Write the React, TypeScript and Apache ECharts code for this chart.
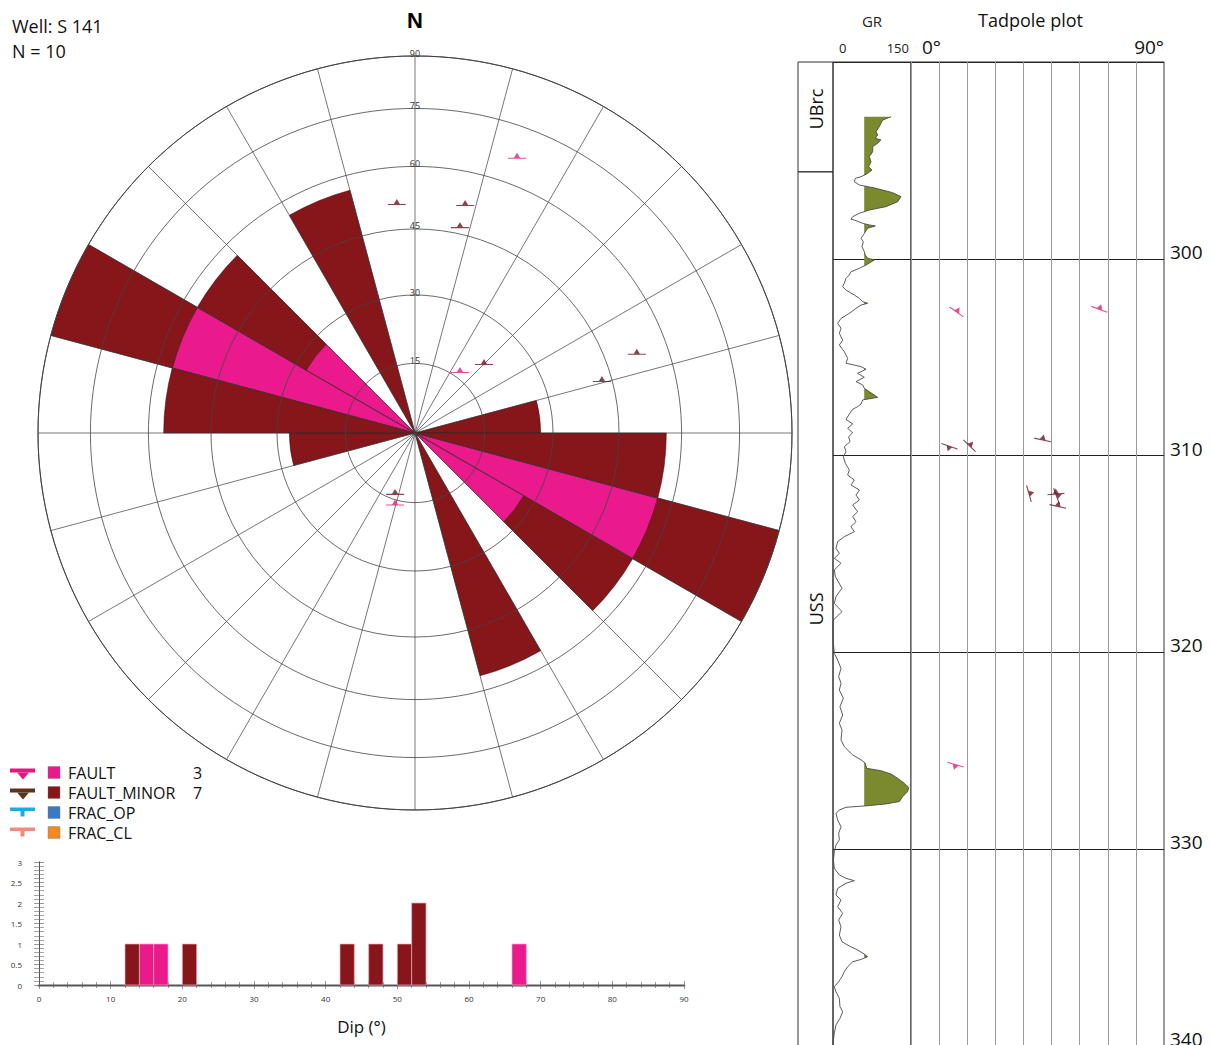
import React, { useEffect, useRef } from 'react';
import * as echarts from 'echarts';

const FONT = '"Open Sans", "Noto Sans", "DejaVu Sans", sans-serif';
const PINK = '#EB1A8C';
const DARK = '#86161A';
const OLIVE = '#7B8A2E';

// ---------- structural features (poles) ----------
const featureTypeNames = ['FAULT', 'FAULT_MINOR', 'FRAC_OP', 'FRAC_CL'];
const featureTypeColors = [PINK, DARK, '#3C79C2', '#F08A24'];
const featureSymbolColors = ['#E0207A', '#6E1422', '#1FA9DF', '#F2897A'];
const featureType = ['FAULT', 'FAULT', 'FAULT_MINOR', 'FAULT_MINOR', 'FAULT_MINOR', 'FAULT_MINOR', 'FAULT_MINOR', 'FAULT_MINOR', 'FAULT_MINOR', 'FAULT'];
const featureDip = [16.7, 67.3, 13.4, 21.4, 47.0, 42.8, 51.5, 52.6, 52.4, 15.6];
const featureAzimuth = [35.5, 20.2, 198.7, 44.2, 12.2, 73.9, 355.5, 69.9, 12.3, 196.0];
const featureDepth = [302.6, 302.45, 309.64, 309.41, 309.08, 311.9, 311.83, 312.02, 312.46, 325.82];

// ---------- rose (strike, bidirectional, 15° bins) ----------
const roseBins = ['0', '15', '30', '45', '60', '75', '90', '105', '120', '135', '150', '165', '180', '195', '210', '225', '240', '255', '270', '285', '300', '315', '330', '345'];
const ROSE_STEP = 15;
const ROSE_MAX = 3;
const ringDips = [15, 30, 45, 60, 75, 90];

// ---------- dip histogram ----------
const HIST_BIN = 2;
const histXTicks = [0, 90, 10];
const histYTicks = [0, 3, 0.5];

// ---------- well log ----------
const DEPTH_MIN = 290;
const DEPTH_MAX = 340;
const GR_MIN = 0;
const GR_MAX = 150;
const GR_CUTOFF = 60;
const grDepth = [292.78, 292.95, 293.29, 293.54, 293.71, 293.88, 293.96, 294.13, 294.3, 294.56, 294.81, 295.07, 295.32, 295.49, 295.66, 295.83, 295.91, 296.08, 296.25, 296.42, 296.64, 296.84, 297.1, 297.35, 297.52, 297.69, 297.86, 297.99, 298.03, 298.2, 298.28, 298.33, 298.45, 298.71, 298.96, 299.13, 299.38, 299.64, 299.81, 299.97, 300.06, 300.32, 300.48, 300.66, 300.82, 300.99, 301.24, 301.42, 301.59, 301.84, 302.01, 302.18, 302.26, 302.35, 302.52, 302.77, 303.03, 303.28, 303.53, 303.79, 304.13, 304.38, 304.72, 305.06, 305.31, 305.4, 305.48, 305.61, 305.82, 306.02, 306.24, 306.41, 306.58, 307.04, 307.17, 307.38, 307.51, 307.65, 307.89, 308.16, 308.39, 308.61, 308.84, 309.04, 309.29, 309.55, 309.8, 310.06, 310.39, 310.73, 310.99, 311.24, 311.49, 311.75, 312.0, 312.26, 312.51, 312.85, 313.1, 313.36, 313.61, 313.87, 314.12, 314.37, 314.71, 314.97, 315.22, 315.47, 315.81, 316.15, 316.74, 317.17, 317.51, 317.93, 318.35, 318.86, 319.54, 320.05, 320.39, 320.81, 321.23, 321.57, 321.91, 322.33, 322.76, 323.18, 323.6, 323.94, 324.45, 324.79, 325.21, 325.46, 325.63, 325.89, 326.01, 326.18, 326.4, 326.65, 326.86, 327.07, 327.33, 327.58, 327.7, 327.8, 327.87, 328.01, 328.18, 328.52, 328.86, 329.19, 329.53, 329.79, 330.13, 330.55, 330.97, 331.31, 331.48, 331.6, 331.73, 331.99, 332.33, 332.58, 332.92, 333.26, 333.6, 333.94, 334.36, 334.7, 334.92, 335.12, 335.33, 335.46, 335.6, 335.72, 335.97, 336.22, 336.48, 336.73, 336.99, 337.24, 337.58, 338.0, 338.26, 338.6, 338.93, 339.36, 339.7, 340.04];
const grValue = [111.5, 95.5, 89.0, 82.7, 85.9, 81.4, 92.2, 85.9, 76.3, 76.3, 69.8, 73.1, 68.6, 75.0, 66.6, 53.9, 43.0, 41.0, 50.7, 82.7, 114.8, 130.7, 124.3, 101.9, 69.8, 50.7, 37.8, 34.6, 41.0, 57.1, 69.8, 81.4, 66.6, 60.2, 53.9, 58.3, 55.7, 60.2, 62.1, 66.6, 79.5, 63.4, 50.7, 34.6, 31.4, 25.0, 21.8, 18.6, 25.0, 41.0, 50.7, 57.1, 66.6, 53.9, 44.2, 31.4, 15.4, 9.0, 15.4, 12.2, 18.6, 12.2, 21.8, 28.2, 25.0, 41.0, 53.9, 63.4, 47.4, 60.2, 44.2, 57.1, 60.2, 85.9, 57.1, 53.9, 47.4, 37.8, 31.4, 25.0, 37.8, 28.2, 37.8, 30.1, 32.7, 21.8, 25.0, 19.9, 23.7, 31.4, 28.2, 41.0, 34.6, 50.7, 44.2, 50.7, 37.8, 47.4, 37.8, 44.2, 34.6, 41.0, 21.8, 9.0, 5.7, 12.2, 2.5, 15.4, 2.5, 4.5, 17.3, 5.7, 2.5, 17.3, 0.7, 0, 0.7, 2.5, 9.0, 15.4, 10.9, 15.4, 12.2, 19.9, 13.4, 18.6, 12.2, 17.3, 15.4, 21.8, 37.8, 53.9, 62.1, 64.7, 92.2, 111.5, 124.3, 137.1, 145.6, 143.6, 133.9, 127.6, 101.9, 62.1, 25.0, 12.2, 5.7, 9.0, 15.4, 10.9, 12.2, 5.7, 2.5, 0.7, 2.5, 12.2, 25.0, 41.0, 25.0, 9.0, 5.7, 15.4, 9.0, 18.6, 10.9, 15.4, 12.2, 17.3, 31.4, 47.4, 60.2, 66.6, 53.9, 37.8, 28.2, 21.8, 17.3, 10.9, 2.5, 5.7, 12.2, 13.4, 18.6, 13.4, 5.7, 2.5, 0.7, 0];
const formationName = ['UBrc', 'USS'];
const formationTop = [290, 295.58];
const formationBase = [295.58, 340];

const eqArea = (dip: number) => Math.SQRT2 * Math.sin((dip * Math.PI) / 360);
const colorOf = (t: string) => featureTypeColors[featureTypeNames.indexOf(t)];
const symColorOf = (t: string) => featureSymbolColors[featureTypeNames.indexOf(t)];

const roseCount = (type: string) =>
  roseBins.map((b) => {
    const lo = Number(b);
    let n = 0;
    featureAzimuth.forEach((az, i) => {
      if (featureType[i] !== type) return;
      const s = (az + 90) % 180;
      [s, s + 180].forEach((v) => {
        if (v >= lo && v < lo + ROSE_STEP) n++;
      });
    });
    return n;
  });

const histRects = () => {
  const counts: Record<string, Record<number, number>> = {};
  featureTypeNames.forEach((t) => (counts[t] = {}));
  featureDip.forEach((d, i) => {
    const b = Math.floor(d / HIST_BIN) * HIST_BIN;
    counts[featureType[i]][b] = (counts[featureType[i]][b] || 0) + 1;
  });
  const out: { value: number[]; color: string }[] = [];
  const base: Record<number, number> = {};
  featureTypeNames.forEach((t, ti) => {
    Object.keys(counts[t]).forEach((k) => {
      const b = Number(k);
      const y0 = base[b] || 0;
      const y1 = y0 + counts[t][b];
      base[b] = y1;
      out.push({ value: [b, b + HIST_BIN, y0, y1], color: featureTypeColors[ti] });
    });
  });
  return out;
};

const SYMBOL = 'path://M0,5 L18,5 L18,6 L0,6 Z M6,5 L9,0.5 L12,5 Z';

function buildOption(): any {
  const hist = histRects();
  const legendY = [772.5, 792.5, 812.5, 832.5];
  const legendEls: any[] = [];
  featureTypeNames.forEach((t, i) => {
    const y = legendY[i];
    const sc = ['#E8157F', '#5B3419', '#1FA9DF', '#F2897A'][i];
    if (i < 2) {
      legendEls.push({ type: 'rect', shape: { x: 10, y: y - 4, width: 25, height: 4 }, style: { fill: sc } });
      legendEls.push({ type: 'polygon', shape: { points: [[17, y], [29, y], [23, y + 7]] }, style: { fill: sc } });
    } else {
      legendEls.push({ type: 'rect', shape: { x: 10, y: y - 5, width: 25, height: 3.5 }, style: { fill: sc } });
      legendEls.push({ type: 'rect', shape: { x: 20.5, y: y - 2, width: 4, height: 6 }, style: { fill: sc } });
    }
    legendEls.push({ type: 'rect', shape: { x: 48, y: y - 6, width: 12, height: 12 }, style: { fill: featureTypeColors[i], stroke: '#777', lineWidth: 0.4 } });
    legendEls.push({ type: 'text', x: 68, y, style: { text: t, fontSize: 16, fontFamily: FONT, fill: '#111', verticalAlign: 'middle' } });
    const n = featureType.filter((f) => f === t).length;
    if (n > 0) legendEls.push({ type: 'text', x: 193, y, style: { text: String(n), fontSize: 16, fontFamily: FONT, fill: '#111', verticalAlign: 'middle' } });
  });

  const roseBar = (t: string) => ({
    type: 'bar',
    name: t,
    coordinateSystem: 'polar',
    polarIndex: 0,
    stack: 'rose',
    barCategoryGap: '0%',
    data: roseCount(t),
    itemStyle: { color: colorOf(t), borderColor: '#3a0808', borderWidth: 0.5 },
    z: 2,
  });

  return {
    animation: false,
    backgroundColor: '#fff',
    textStyle: { fontFamily: FONT },
    polar: [
      { center: [415, 433], radius: 377 },
      { center: [415, 433], radius: 377 },
    ],
    angleAxis: [
      {
        polarIndex: 0,
        type: 'category',
        data: roseBins,
        startAngle: 90,
        clockwise: true,
        z: 5,
        axisLine: { show: true, lineStyle: { color: '#444', width: 1 } },
        axisTick: { show: false },
        axisLabel: { show: false },
        splitLine: { show: true, lineStyle: { color: '#3c3c3c', width: 0.7 } },
      },
      { polarIndex: 1, type: 'value', min: 0, max: 360, startAngle: 90, clockwise: true, show: false },
    ],
    radiusAxis: [
      { polarIndex: 0, type: 'value', min: 0, max: ROSE_MAX, show: false },
      { polarIndex: 1, type: 'value', min: 0, max: 1, show: false },
    ],
    grid: [
      { left: 39, top: 862, width: 645, height: 123, show: false, outerBoundsMode: 'none' },
      { left: 833, width: 78, top: 62, height: 984, show: true, borderColor: '#333', borderWidth: 1, backgroundColor: 'transparent', outerBoundsMode: 'none' },
      { left: 911, width: 253, top: 62, height: 984, show: true, borderColor: '#333', borderWidth: 1, backgroundColor: 'transparent', outerBoundsMode: 'none' },
      { left: 798, width: 35, top: 62, height: 984, show: false, outerBoundsMode: 'none' },
    ],
    xAxis: [
      {
        gridIndex: 0, type: 'value', min: histXTicks[0], max: histXTicks[1], interval: histXTicks[2],
        axisLine: { lineStyle: { color: '#aaa', width: 3 } },
        axisTick: { inside: true, length: 4, lineStyle: { color: '#555', width: 0.6 } },
        minorTick: { show: true, splitNumber: 5, length: 3, lineStyle: { color: '#555', width: 0.6 } },
        splitLine: { show: false },
        axisLabel: { fontSize: 8, color: '#333', margin: 9 },
        name: 'Dip (°)', nameLocation: 'middle', nameGap: 33,
        nameTextStyle: { fontSize: 17, color: '#111', fontFamily: FONT },
      },
      {
        gridIndex: 0, type: 'value', position: 'top', min: histXTicks[0], max: histXTicks[1], interval: histXTicks[2],
        axisLine: { lineStyle: { color: '#555', width: 1 } },
        axisTick: { inside: true, length: 4, lineStyle: { color: '#555', width: 0.6 } },
        minorTick: { show: true, splitNumber: 5, length: 3, lineStyle: { color: '#555', width: 0.6 } },
        splitLine: { show: false },
        axisLabel: { show: false },
      },
      {
        gridIndex: 1, type: 'value', position: 'top', min: GR_MIN, max: GR_MAX, interval: GR_MAX - GR_MIN,
        axisLine: { show: false }, axisTick: { show: false }, splitLine: { show: false },
        axisLabel: {
          margin: 8, alignMinLabel: 'left', alignMaxLabel: 'right',
          formatter: (v: number) => (v === GR_MIN ? '{l|' + v + '}' : '{r|' + v + '}'),
          rich: {
            l: { fontSize: 13, color: '#222', fontFamily: FONT, padding: [0, 0, 0, 6] },
            r: { fontSize: 13, color: '#222', fontFamily: FONT, padding: [0, 2, 0, 0] },
          },
        },
        name: 'GR', nameLocation: 'middle', nameGap: 34,
        nameTextStyle: { fontSize: 15, color: '#222', fontFamily: FONT },
      },
      {
        gridIndex: 2, type: 'value', position: 'top', min: 0, max: 90, interval: 10,
        axisLine: { show: false }, axisTick: { show: false },
        splitLine: { show: true, lineStyle: { color: '#9a9a9a', width: 1 } },
        axisLabel: {
          margin: 6, alignMinLabel: 'left', alignMaxLabel: 'right',
          formatter: (v: number) => (v === 0 ? '{l|' + v + '°}' : v === 90 ? '{r|' + v + '°}' : ''),
          rich: {
            l: { fontSize: 19, color: '#111', fontFamily: FONT, padding: [0, 0, 0, 11] },
            r: { fontSize: 19, color: '#111', fontFamily: FONT },
          },
        },
        name: 'Tadpole plot', nameLocation: 'middle', nameGap: 33,
        nameTextStyle: { fontSize: 18, color: '#111', fontFamily: FONT, padding: [0, 14, 0, 0] },
      },
      { gridIndex: 3, type: 'value', min: 0, max: 1, show: false },
    ],
    yAxis: [
      {
        gridIndex: 0, type: 'value', min: histYTicks[0], max: histYTicks[1], interval: histYTicks[2],
        axisLine: { show: true, lineStyle: { color: '#555', width: 1 } },
        axisTick: { show: true, inside: true, length: 5, lineStyle: { color: '#555', width: 0.6 } },
        minorTick: { show: true, splitNumber: 5, length: 5, lineStyle: { color: '#666', width: 0.6 } },
        splitLine: { show: false },
        axisLabel: { fontSize: 8, color: '#333', margin: 17 },
      },
      {
        gridIndex: 0, type: 'value', position: 'right', min: histYTicks[0], max: histYTicks[1], interval: histYTicks[2],
        axisLine: { show: true, lineStyle: { color: '#555', width: 1 } },
        axisTick: { show: true, inside: true, length: 5, lineStyle: { color: '#555', width: 0.6 } },
        minorTick: { show: true, splitNumber: 5, length: 5, lineStyle: { color: '#666', width: 0.6 } },
        splitLine: { show: false },
        axisLabel: { show: false },
      },
      {
        gridIndex: 1, type: 'value', inverse: true, min: DEPTH_MIN, max: DEPTH_MAX, interval: 10,
        axisLine: { show: false }, axisTick: { show: false }, axisLabel: { show: false },
        splitLine: { show: true, lineStyle: { color: '#222', width: 1 } },
      },
      {
        gridIndex: 2, type: 'value', position: 'right', inverse: true, min: DEPTH_MIN, max: DEPTH_MAX, interval: 10,
        axisLine: { show: false }, axisTick: { show: false },
        axisLabel: { showMinLabel: false, fontSize: 19, color: '#111', margin: 6, fontFamily: FONT, verticalAlign: 'bottom', lineHeight: 14 },
        splitLine: { show: true, lineStyle: { color: '#222', width: 1 } },
      },
      { gridIndex: 3, type: 'value', inverse: true, min: DEPTH_MIN, max: DEPTH_MAX, show: false },
    ],
    series: [
      roseBar('FAULT'),
      roseBar('FAULT_MINOR'),
      {
        type: 'custom',
        name: 'rings',
        coordinateSystem: 'polar',
        polarIndex: 1,
        silent: true,
        z: 6,
        data: ringDips.map((d) => [eqArea(d), 0]),
        renderItem: (params: any, api: any) => {
          const cs = params.coordSys;
          const p = api.coord([api.value(0), 0]);
          const rad = Math.hypot(p[0] - cs.cx, p[1] - cs.cy);
          return {
            type: 'group',
            children: [
              { type: 'circle', shape: { cx: cs.cx, cy: cs.cy, r: rad }, style: { fill: 'none', stroke: '#444', lineWidth: 0.8 } },
              {
                type: 'text',
                style: {
                  text: String(ringDips[params.dataIndex]), x: p[0], y: p[1] + 1.5,
                  align: 'center', verticalAlign: 'bottom', fontSize: 9, fill: '#333', fontFamily: FONT,
                },
              },
            ],
          };
        },
      },
      {
        type: 'scatter',
        name: 'poles',
        coordinateSystem: 'polar',
        polarIndex: 1,
        z: 8,
        symbol: SYMBOL,
        symbolSize: [18, 6],
        data: featureDip.map((d, i) => ({
          value: [eqArea(d), featureAzimuth[i]],
          itemStyle: { color: symColorOf(featureType[i]) },
        })),
      },
      {
        type: 'custom',
        name: 'dip histogram',
        xAxisIndex: 0,
        yAxisIndex: 0,
        encode: { x: [0, 1], y: [2, 3] },
        data: hist.map((h) => h.value),
        renderItem: (params: any, api: any) => {
          const p0 = api.coord([api.value(0), api.value(2)]);
          const p1 = api.coord([api.value(1), api.value(3)]);
          return {
            type: 'rect',
            shape: { x: p0[0], y: p1[1], width: p1[0] - p0[0], height: p0[1] - p1[1] },
            style: { fill: hist[params.dataIndex].color, stroke: '#f0a8c0', lineWidth: 0.7 },
          };
        },
      },
      {
        type: 'custom',
        name: 'GR fill',
        xAxisIndex: 2,
        yAxisIndex: 2,
        silent: true,
        data: [[GR_CUTOFF, grDepth[0]]],
        renderItem: (params: any, api: any) => {
          const pts: number[][] = [];
          for (let i = 0; i < grDepth.length; i++) {
            const v = grValue[i];
            pts.push(api.coord([Math.max(v, GR_CUTOFF), grDepth[i]]));
            if (i < grDepth.length - 1) {
              const w = grValue[i + 1];
              if ((v - GR_CUTOFF) * (w - GR_CUTOFF) < 0) {
                const t = (GR_CUTOFF - v) / (w - v);
                pts.push(api.coord([GR_CUTOFF, grDepth[i] + t * (grDepth[i + 1] - grDepth[i])]));
              }
            }
          }
          for (let i = grDepth.length - 1; i >= 0; i--) pts.push(api.coord([GR_CUTOFF, grDepth[i]]));
          return { type: 'polygon', shape: { points: pts }, style: { fill: OLIVE, stroke: 'none' } };
        },
      },
      {
        type: 'line',
        name: 'GR',
        xAxisIndex: 2,
        yAxisIndex: 2,
        showSymbol: false,
        symbol: 'none',
        z: 4,
        lineStyle: { color: '#4a4a4a', width: 0.9 },
        data: grDepth.map((d, i) => [grValue[i], d]),
      },
      {
        type: 'scatter',
        name: 'tadpoles',
        xAxisIndex: 3,
        yAxisIndex: 3,
        symbol: SYMBOL,
        symbolSize: [17, 6],
        z: 5,
        data: featureDip.map((d, i) => ({
          value: [d, featureDepth[i]],
          symbolRotate: -featureAzimuth[i],
          itemStyle: { color: symColorOf(featureType[i]) },
        })),
      },
      {
        type: 'custom',
        name: 'formations',
        xAxisIndex: 4,
        yAxisIndex: 4,
        silent: true,
        data: formationName.map((_, i) => [formationTop[i], formationBase[i]]),
        encode: { y: [0, 1] },
        renderItem: (params: any, api: any) => {
          const i = params.dataIndex;
          const a = api.coord([0, formationTop[i]]);
          const b = api.coord([1, formationBase[i]]);
          return {
            type: 'group',
            children: [
              { type: 'rect', shape: { x: a[0], y: a[1], width: b[0] - a[0], height: b[1] - a[1] }, style: { fill: 'none', stroke: '#333', lineWidth: 1 } },
              {
                type: 'text', x: (a[0] + b[0]) / 2, y: (a[1] + b[1]) / 2 - (i === 0 ? 8 : 0), rotation: Math.PI / 2,
                style: { text: formationName[i], align: 'center', verticalAlign: 'middle', fontSize: 18, fill: '#111', fontFamily: FONT },
              },
            ],
          };
        },
      },
    ],
    graphic: {
      elements: [
        { type: 'text', x: 12, y: 26, style: { text: 'Well: S 141', fontSize: 18, fill: '#111', fontFamily: FONT, verticalAlign: 'middle' } },
        { type: 'text', x: 12, y: 51, style: { text: 'N = 10', fontSize: 18, fill: '#111', fontFamily: FONT, verticalAlign: 'middle' } },
        { type: 'text', x: 415, y: 20, style: { text: 'N', fontSize: 22, fontWeight: 'bold', fill: '#000', fontFamily: '"Liberation Sans", Arial, sans-serif', align: 'center', verticalAlign: 'middle' } },
        ...legendEls,
      ],
    },
  };
}

export default function App() {
  const ref = useRef<HTMLDivElement>(null);
  useEffect(() => {
    if (!ref.current) return;
    const chart = echarts.init(ref.current, undefined, { renderer: 'svg' });
    chart.setOption(buildOption());
    return () => chart.dispose();
  }, []);
  return <div ref={ref} style={{ position: 'absolute', left: 0, top: 0, width: 1211, height: 1045 }} />;
}
